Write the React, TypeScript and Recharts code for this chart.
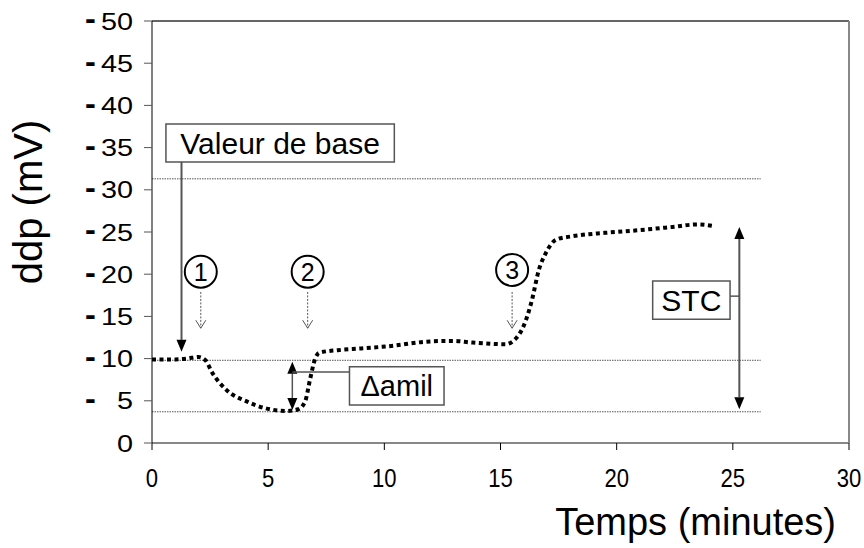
import React from "react";
import {
  LineChart,
  Line,
  XAxis,
  YAxis,
  ReferenceLine,
  ReferenceArea,
  ReferenceDot,
} from "recharts";

// time (minutes) and potential difference (-mV)
const timeMin = [
  0, 0.5, 1, 1.5, 2, 2.3, 2.6, 3.2, 4.1, 4.9, 5.8, 6.3, 6.6, 6.8, 7.0, 7.2, 8.0,
  9.0, 10.3, 11.8, 12.9, 13.8, 15.2, 15.7, 16.1, 16.35, 16.65, 16.95, 17.4,
  18.1, 19.5, 20.9, 22.4, 23.5, 24.2,
];
const ddp = [
  9.9, 9.9, 9.9, 10.0, 10.2, 9.8, 8.3, 6.3, 4.9, 4.1, 3.8, 4.0, 5.0, 7.5, 9.8,
  10.7, 11.0, 11.2, 11.5, 12.0, 12.1, 11.9, 11.7, 12.5, 14.6, 16.9, 20.5, 22.5,
  24.1, 24.5, 24.9, 25.2, 25.6, 25.9, 25.7,
];

const yTicks = [0, 5, 10, 15, 20, 25, 30, 35, 40, 45, 50];
const xTicks = [0, 5, 10, 15, 20, 25, 30];

// dotted guide levels and where they stop
const guideLevels = [31.3, 9.8, 3.7];
const guideEnd = 26.2;

// circled step numbers and their little dashed arrows
const steps = ["1", "2", "3"];
const stepX = [2.1, 6.7, 15.5];
const stepY = [20.3, 20.3, 20.5];
const stepArrowTop = 17.9;
const stepArrowBottom = 13.6;

const data = timeMin.map((t, i) => ({ t, v: ddp[i] }));

const FONT = "'Liberation Sans', Arial, sans-serif";

type Head = "solid" | "open" | "none";

const makeArrow =
  (start: Head, end: Head, stroke: string, sw: number, dash?: string) =>
  (p: any) => {
    const { x1, y1, x2, y2 } = p;
    const len = Math.hypot(x2 - x1, y2 - y1) || 1;
    const ux = (x2 - x1) / len;
    const uy = (y2 - y1) / len;
    const nx = -uy;
    const ny = ux;
    const L = 12;
    const W = 5;
    let sx = x1, sy = y1, ex = x2, ey = y2;
    const parts: React.ReactNode[] = [];
    const head = (hx: number, hy: number, dx: number, dy: number, kind: Head, key: string) => {
      if (kind === "solid") {
        const bx = hx - dx * L;
        const by = hy - dy * L;
        parts.push(
          <polygon
            key={key}
            points={`${hx},${hy} ${bx + nx * W},${by + ny * W} ${bx - nx * W},${by - ny * W}`}
            fill="#000"
          />
        );
      } else if (kind === "open") {
        const bx = hx - dx * 8;
        const by = hy - dy * 8;
        parts.push(
          <polyline
            key={key}
            points={`${bx + nx * 5},${by + ny * 5} ${hx},${hy} ${bx - nx * 5},${by - ny * 5}`}
            fill="none"
            stroke={stroke}
            strokeWidth={1}
          />
        );
      }
    };
    if (end === "solid") {
      ex = x2 - ux * L;
      ey = y2 - uy * L;
    }
    if (start === "solid") {
      sx = x1 + ux * L;
      sy = y1 + uy * L;
    }
    head(x2, y2, ux, uy, end, "e");
    head(x1, y1, -ux, -uy, start, "s");
    return (
      <g>
        <line x1={sx} y1={sy} x2={ex} y2={ey} stroke={stroke} strokeWidth={sw} strokeDasharray={dash} />
        {parts}
      </g>
    );
  };

const YTick = (props: any) => {
  const { x, y, payload } = props;
  const v = payload.value;
  return (
    <g>
      {v !== 0 && (
        <g transform={`translate(85,${y})`}>
          <text transform="scale(1.35,1.3)" dy={6.5} fontSize={24} fontFamily={FONT} fill="#000" fontWeight="bold">
            -
          </text>
        </g>
      )}
      <g transform={`translate(${x},${y})`}>
        <text transform="scale(1.2,1)" dy={8.5} textAnchor="end" fontSize={24} fontFamily={FONT} fill="#000">
          {v}
        </text>
      </g>
    </g>
  );
};

const XTick = (props: any) => {
  const { x, payload } = props;
  return (
    <g transform={`translate(${x},487)`}>
      <text transform="scale(0.85,1)" textAnchor="middle" fontSize={26} fontFamily={FONT} fill="#000">
        {payload.value}
      </text>
    </g>
  );
};

const boxStyle = { fill: "#fff", fillOpacity: 1, stroke: "#555", strokeWidth: 1.5 };

export default function App() {
  return (
    <div
      style={{
        position: "absolute",
        left: 0,
        top: 0,
        width: 864,
        height: 548,
        background: "#fff",
        fontFamily: FONT,
      }}
    >
      <LineChart
        width={864}
        height={548}
        data={data}
        margin={{ top: 21, right: 15, bottom: 75, left: 0 }}
      >
        <XAxis
          dataKey="t"
          type="number"
          domain={[0, 30]}
          ticks={xTicks}
          height={30}
          axisLine={{ stroke: "#888", strokeWidth: 2 }}
          tickLine={{ stroke: "#000" }}
          tickSize={7}
          tick={<XTick />}
          label={{
            content: () => (
              <text x={836} y={535} textAnchor="end" fontSize={38} fontFamily={FONT} fill="#000">
                Temps (minutes)
              </text>
            ),
          }}
        />
        <YAxis
          type="number"
          domain={[0, 50]}
          ticks={yTicks}
          width={152}
          axisLine={{ stroke: "#000" }}
          tickLine={{ stroke: "#555" }}
          tickSize={8}
          tickMargin={11}
          tick={<YTick />}
          label={{
            content: () => (
              <text
                transform="translate(42,202) rotate(-90)"
                textAnchor="middle"
                fontSize={40}
                fontFamily={FONT}
                fill="#000"
              >
                ddp (mV)
              </text>
            ),
          }}
        />

        {/* frame */}
        <ReferenceLine y={50} stroke="#333" strokeWidth={1.5} />
        <ReferenceLine x={30} stroke="#888" strokeWidth={2} />

        {guideLevels.map((lv) => (
          <ReferenceLine
            key={lv}
            segment={[
              { x: 0, y: lv },
              { x: guideEnd, y: lv },
            ]}
            stroke="#555"
            strokeWidth={1}
            strokeDasharray="1.5 1"
          />
        ))}

        <Line
          type="monotone"
          dataKey="v"
          stroke="#000"
          strokeWidth={4}
          strokeDasharray="4 3.5"
          dot={false}
          isAnimationActive={false}
        />

        {/* Valeur de base */}
        <ReferenceLine
          segment={[
            { x: 1.27, y: 33.3 },
            { x: 1.27, y: 10.8 },
          ]}
          shape={makeArrow("none", "solid", "#555", 2)}
        />
        <ReferenceArea
          x1={0.6}
          x2={10.43}
          y1={33.3}
          y2={37.8}
          {...boxStyle}
          label={{ value: "Valeur de base", position: "center", fontSize: 30, fill: "#000" }}
        />

        {/* step markers */}
        {steps.map((s, i) => (
          <ReferenceLine
            key={"a" + s}
            segment={[
              { x: stepX[i], y: stepArrowTop },
              { x: stepX[i], y: stepArrowBottom },
            ]}
            shape={makeArrow("none", "open", "#555", 1, "2 1.5")}
          />
        ))}
        {steps.map((s, i) => (
          <ReferenceDot
            key={"d" + s}
            x={stepX[i]}
            y={stepY[i]}
            r={16}
            fill="#fff"
            stroke="#000"
            strokeWidth={2}
            label={{ value: s, position: "center", fontSize: 25, fill: "#000" }}
          />
        ))}

        {/* Δamil */}
        <ReferenceLine
          segment={[
            { x: 6.04, y: 3.9 },
            { x: 6.04, y: 9.63 },
          ]}
          shape={makeArrow("solid", "solid", "#555", 1.5)}
        />
        <ReferenceLine
          segment={[
            { x: 6.04, y: 8.4 },
            { x: 8.5, y: 8.4 },
          ]}
          stroke="#555"
          strokeWidth={1.5}
        />
        <ReferenceArea
          x1={8.5}
          x2={12.57}
          y1={4.5}
          y2={9.04}
          {...boxStyle}
          label={{ value: "Δamil", position: "center", fontSize: 29, fill: "#000" }}
        />

        {/* STC */}
        <ReferenceLine
          segment={[
            { x: 25.28, y: 4.0 },
            { x: 25.28, y: 25.6 },
          ]}
          shape={makeArrow("solid", "solid", "#555", 2)}
        />
        <ReferenceLine
          segment={[
            { x: 24.88, y: 17.4 },
            { x: 25.28, y: 17.4 },
          ]}
          stroke="#555"
          strokeWidth={1.5}
        />
        <ReferenceArea
          x1={21.55}
          x2={24.88}
          y1={14.65}
          y2={19.2}
          {...boxStyle}
          label={{ value: "STC", position: "center", fontSize: 30, fill: "#000" }}
        />
      </LineChart>
    </div>
  );
}
